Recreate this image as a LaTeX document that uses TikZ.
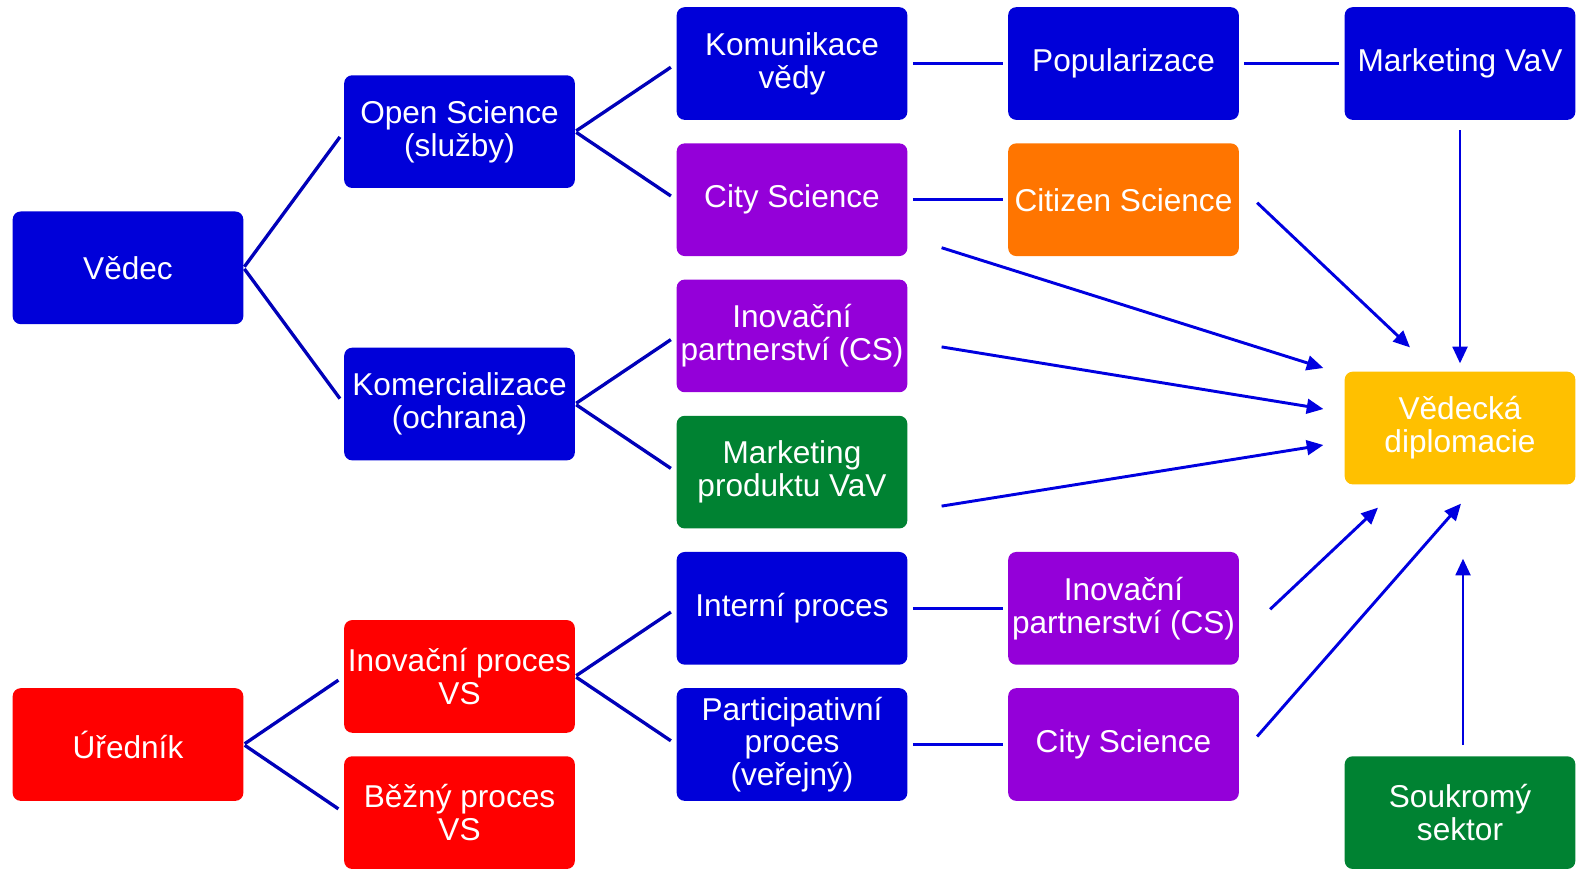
\documentclass[tikz,border=0pt]{standalone}
\usepackage{fontspec}
\setmainfont{Liberation Sans}
\usetikzlibrary{arrows.meta,calc}

\definecolor{boxblue}{RGB}{0,0,217}
\definecolor{boxviolet}{RGB}{148,0,217}
\definecolor{boxorange}{RGB}{255,117,0}
\definecolor{boxyellow}{RGB}{255,192,0}
\definecolor{boxgreen}{RGB}{0,130,50}
\definecolor{boxred}{RGB}{255,0,0}
\definecolor{treeblue}{RGB}{0,0,185}
\definecolor{arrowblue}{RGB}{0,0,224}

\begin{document}
\begin{tikzpicture}[x=0.75pt,y=-0.75pt,
	box/.style={rectangle,rounded corners=6pt,minimum width=173pt,minimum height=84.5pt,
		inner sep=0pt,align=center,text=white,font=\fontsize{23.7}{24.6}\selectfont},
	branch/.style={draw=treeblue,line width=2.5pt,shorten <=1pt,shorten >=5pt},
	link/.style={draw=arrowblue,line width=2.5pt,shorten <=4pt,shorten >=4pt},
	toward/.style={draw=arrowblue,line width=2.2pt,-{Triangle[length=12.5pt,width=11pt]}}]
	\useasboundingbox (0,0) rectangle (1576,869);
	
	% scientist branch
	
	\node[box,fill=boxblue] (vedec) at (128,267.8) {Vědec};
	\node[box,fill=boxblue] (opensci) at (459.5,131.6) {Open Science\\(služby)};
	\node[box,fill=boxblue] (komerc) at (459.5,404) {Komercializace\\(ochrana)};
	\node[box,fill=boxblue] (komun) at (792,63.5) {Komunikace\\vědy};
	\node[box,fill=boxviolet] (city) at (792,199.7) {City Science};
	\node[box,fill=boxviolet] (inovpart) at (792,335.9) {Inovační\\partnerství (CS)};
	\node[box,fill=boxgreen] (markprod) at (792,472.1) {Marketing\\produktu VaV};
	\node[box,fill=boxblue] (popul) at (1123.5,63.5) {Popularizace};
	\node[box,fill=boxorange] (citizen) at (1123.5,199.7) {Citizen Science};
	\node[box,fill=boxblue] (markvav) at (1460,63.5) {Marketing VaV};
	\node[box,fill=boxyellow] (dipl) at (1460,428) {Vědecká\\diplomacie};
	
	\draw[branch] (vedec.east) -- (opensci.west);
	\draw[branch] (vedec.east) -- (komerc.west);
	\draw[branch] (opensci.east) -- (komun.west);
	\draw[branch] (opensci.east) -- (city.west);
	\draw[branch] (komerc.east) -- (inovpart.west);
	\draw[branch] (komerc.east) -- (markprod.west);
	\draw[link] (komun.east) -- (popul.west);
	\draw[link] (popul.east) -- (markvav.west);
	\draw[link] (city.east) -- (citizen.west);
	
	% officer branch
	
	\node[box,fill=boxred] (urednik) at (128,744.5) {Úředník};
	\node[box,fill=boxred] (inovproc) at (459.5,676.4) {Inovační proces\\VS};
	\node[box,fill=boxred] (bezny) at (459.5,812.6) {Běžný proces\\VS};
	\node[box,fill=boxblue] (interni) at (792,608.3) {Interní proces};
	\node[box,fill=boxblue] (partic) at (792,744.5) {Participativní\\proces\\(veřejný)};
	\node[box,fill=boxviolet] (inovpart2) at (1123.5,608.3) {Inovační\\partnerství (CS)};
	\node[box,fill=boxviolet] (city2) at (1123.5,744.5) {City Science};
	\node[box,fill=boxgreen] (soukr) at (1460,812.6) {Soukromý\\sektor};
	
	\draw[branch] (urednik.east) -- (inovproc.west);
	\draw[branch] (urednik.east) -- (bezny.west);
	\draw[branch] (inovproc.east) -- (interni.west);
	\draw[branch] (inovproc.east) -- (partic.west);
	\draw[link] (interni.east) -- (inovpart2.west);
	\draw[link] (partic.east) -- (city2.west);
	
	% arrows into diplomacy
	
	\draw[toward] ($(markvav.south)+(0,10)$) -- ($(dipl.north)+(0,-8)$);
	\draw[toward] ($(citizen.east)+(18,3)$) -- ($(dipl.north)+(-50,-24)$);
	\draw[toward] ($(city.east)+(34,48)$) -- ($(dipl.west)+(-21,-60)$);
	\draw[toward] ($(inovpart.east)+(34,11)$) -- ($(dipl.west)+(-21,-19)$);
	\draw[toward] ($(markprod.east)+(34,34)$) -- ($(dipl.west)+(-21,17)$);
	\draw[toward] ($(inovpart2.east)+(31,1)$) -- ($(dipl.south)+(-82,23)$);
	\draw[toward] ($(city2.east)+(18,-8)$) -- ($(dipl.south)+(1,19)$);
	\draw[toward] ($(soukr.north)+(3,-11)$) -- ($(dipl.south)+(3,74)$);
\end{tikzpicture}
\end{document}
